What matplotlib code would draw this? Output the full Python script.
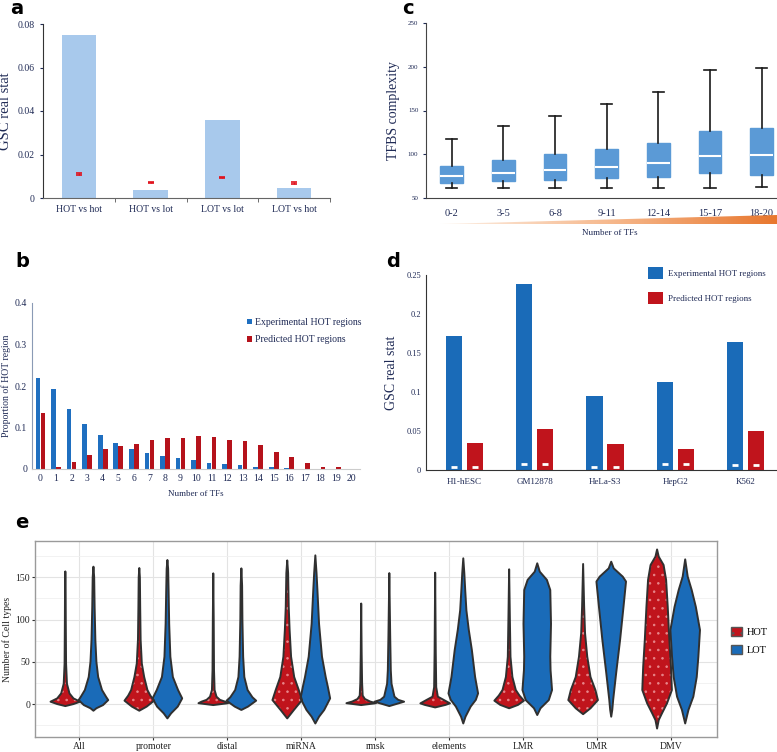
import numpy as np
import matplotlib
matplotlib.use("Agg")
import matplotlib.pyplot as plt
from matplotlib.patches import Polygon, Patch
from matplotlib.colors import LinearSegmentedColormap

plt.rcParams['font.family'] = ['Liberation Serif', 'DejaVu Serif']

NAVY = '#1f2a55'
BLUE = '#1a6bb8'
RED = '#c0141c'

# ---- panel a data
a_cats = ['HOT vs hot', 'HOT vs lot', 'LOT vs lot', 'LOT vs hot']
a_vals = [0.075, 0.0035, 0.036, 0.0045]
a_null = [0.011, 0.0072, 0.0095, 0.007]
a_err = [0.0004, 0.0003, 0.0003, 0.0004]

# ---- panel b data
b_x = list(range(21))
b_exp = [0.219, 0.193, 0.145, 0.108, 0.081, 0.062, 0.048, 0.039, 0.032, 0.026, 0.021,
         0.015, 0.011, 0.009, 0.006, 0.004, 0.003, 0.001, 0.0005, 0.0003, 0.0]
b_pred = [0.135, 0.006, 0.018, 0.034, 0.049, 0.055, 0.061, 0.071, 0.074, 0.075, 0.079,
          0.078, 0.071, 0.068, 0.059, 0.042, 0.030, 0.014, 0.006, 0.004, 0.0]

# ---- panel c data (box stats)
c_cats = ['0-2', '3-5', '6-8', '9-11', '12-14', '15-17', '18-20']
c_low = [62, 62, 62, 62, 62, 62, 63]
c_q1 = [67, 69, 70.6, 72.5, 73.7, 79, 76.7]
c_med = [75.6, 79, 82, 85, 89.7, 98.5, 99.6]
c_q3 = [87, 94, 100, 106.5, 112.6, 126.7, 130]
c_high = [117, 132, 144, 157, 170.6, 196, 198.5]

# ---- panel d data
d_cells = ['H1-hESC', 'GM12878', 'HeLa-S3', 'HepG2', 'K562']
d_exp = [0.172, 0.239, 0.095, 0.113, 0.164]
d_pred = [0.034, 0.053, 0.033, 0.027, 0.050]
d_exp_null = [0.004, 0.008, 0.004, 0.008, 0.007]
d_pred_null = [0.004, 0.008, 0.004, 0.008, 0.007]

# ---- panel e data (violin profiles: levels and relative widths)
e_cats = ['All', 'promoter', 'distal', 'miRNA', 'rmsk', 'elements', 'LMR', 'UMR', 'DMV']
hot_y = [
    [-2.4, 0, 2.8, 6.7, 12.6, 24, 48, 100, 140, 157],
    [-7.9, -3, 4, 10, 16.6, 32, 48, 76, 115, 150, 161],
    [-1.2, 1, 2.8, 5, 8.7, 16.6, 40, 100, 154.7],
    [-17, -7, 4.7, 16.6, 32, 56, 88, 115, 155, 170],
    [-1.2, 1, 3, 6, 10, 25, 60, 119],
    [-4, -1, 0.8, 4.7, 8.7, 20, 60, 155.5],
    [-5, -1, 4, 10, 16.6, 32, 56, 100, 159.5],
    [-12, -5, 4.7, 16.6, 32, 56, 84, 115, 165.8],
    [-29, -19, -11, 0.8, 16.6, 44, 76, 115, 147, 164.6, 174.5, 183],
]
hot_w = [
    [0, 0.55, 1.0, 0.55, 0.28, 0.11, 0.05, 0.03, 0.02, 0],
    [0, 0.5, 1.0, 0.75, 0.55, 0.33, 0.17, 0.09, 0.06, 0.04, 0],
    [0, 1.0, 0.8, 0.45, 0.22, 0.09, 0.05, 0.03, 0],
    [0, 0.45, 1.0, 0.78, 0.47, 0.26, 0.16, 0.1, 0.06, 0],
    [0, 1.0, 0.6, 0.25, 0.1, 0.06, 0.03, 0],
    [0, 0.7, 1.0, 0.6, 0.18, 0.07, 0.04, 0],
    [0, 0.6, 1.0, 0.7, 0.45, 0.22, 0.09, 0.05, 0],
    [0, 0.5, 1.0, 0.83, 0.5, 0.28, 0.13, 0.07, 0],
    [0, 0.11, 0.33, 0.67, 1.0, 0.94, 0.83, 0.72, 0.61, 0.44, 0.11, 0],
]
lot_y = [
    [-7.9, -5, -1.2, 4.7, 8.7, 16.6, 32, 50, 76, 115, 150, 162.6],
    [-17, -11, -3, 6.7, 16.6, 32, 56, 95, 135, 160, 170.5],
    [-7, -3, 4, 8, 16.6, 32, 56, 100, 140, 160.6],
    [-23, -15, -7, 6.7, 20, 32, 56, 95, 135, 155, 176],
    [-2.4, 2.8, 5, 8.7, 24, 40, 80, 155],
    [-23, -15, -3, 5, 12.6, 32, 64, 88, 111, 135, 155, 172.5],
    [-13, -5, 4.7, 16.6, 40, 56, 95, 135, 147, 156.7, 166.6],
    [-15, -7, 4.7, 36, 76, 115, 145, 150.8, 160.6, 168.5],
    [-23, -7, 8.7, 32, 56, 87.6, 115, 135, 150.8, 171.3],
]
lot_w = [
    [0, 0.2, 0.65, 1.0, 0.85, 0.58, 0.32, 0.2, 0.13, 0.08, 0.05, 0],
    [0, 0.25, 0.7, 1.0, 0.72, 0.37, 0.2, 0.12, 0.08, 0.05, 0],
    [0, 0.45, 1.0, 0.75, 0.42, 0.2, 0.12, 0.07, 0.05, 0],
    [0, 0.25, 0.6, 1.0, 0.85, 0.7, 0.45, 0.25, 0.14, 0.08, 0],
    [0, 1.0, 0.6, 0.35, 0.15, 0.1, 0.06, 0],
    [0, 0.15, 0.5, 0.85, 1.0, 0.8, 0.58, 0.37, 0.21, 0.13, 0.07, 0],
    [0, 0.22, 0.78, 1.0, 0.9, 0.88, 0.93, 0.88, 0.65, 0.17, 0],
    [0, 0.07, 0.13, 0.33, 0.6, 0.83, 1.0, 0.78, 0.17, 0],
    [0, 0.22, 0.55, 0.78, 0.89, 1.0, 0.72, 0.44, 0.17, 0],
]

W, H = 777, 752
fig = plt.figure(figsize=(W / 100, H / 100), dpi=100)


def box(l, t, r, b):
    return [l / W, 1 - b / H, (r - l) / W, (b - t) / H]


def letter(x, y, s):
    fig.text(x / W, 1 - y / H, s, fontsize=14, fontweight='bold',
             family='DejaVu Sans', va='baseline', ha='left')


### panel a
ax = fig.add_axes(box(43, 24, 330, 198))
xa = np.arange(len(a_cats))
ax.bar(xa, a_vals, 0.48, color='#a8c9ec')
ax.errorbar(xa, a_null, yerr=a_err, fmt='none', ecolor='#e0101a', capsize=2.2, elinewidth=1.0, capthick=1.2)
ax.set_xlim(-0.5, 3.5)
ax.set_ylim(0, 0.08)
ax.set_yticks([0, 0.02, 0.04, 0.06, 0.08])
ax.set_yticklabels(['0', '0.02', '0.04', '0.06', '0.08'])
ax.set_xticks(xa)
ax.set_xticklabels(a_cats)
ax.set_xticks([0.5, 1.5, 2.5, 3.5], minor=True)
ax.tick_params(axis='x', which='major', length=0, labelsize=7, colors=NAVY, pad=5)
ax.tick_params(axis='x', which='minor', length=3, color='#555')
ax.tick_params(axis='y', labelsize=7, colors=NAVY, length=2.5)
for s in ['top', 'right']:
    ax.spines[s].set_visible(False)
ax.spines['left'].set_color('#333')
ax.spines['bottom'].set_color('#666')
ax.set_ylabel('GSC real stat', fontsize=10.5, color=NAVY, labelpad=4)
letter(10, 14, 'a')

### panel b
ax = fig.add_axes(box(32, 303, 360, 469))
xb = np.array(b_x)
ax.bar(xb - 0.16, b_exp, 0.3, color='#1f6fc0', label='Experimental HOT regions')
ax.bar(xb + 0.16, b_pred, 0.3, color='#b5121b', label='Predicted HOT regions')
ax.set_xlim(-0.55, 20.55)
ax.set_ylim(0, 0.4)
ax.set_xticks(xb)
ax.set_yticks([0, 0.1, 0.2, 0.3, 0.4])
ax.set_yticklabels(['0', '0.1', '0.2', '0.3', '0.4'])
ax.tick_params(length=0, labelsize=7, colors=NAVY)
for s in ['top', 'right']:
    ax.spines[s].set_visible(False)
ax.spines['left'].set_color('#8a9ab5')
ax.spines['bottom'].set_color('#cccccc')
ax.set_xlabel('Number of TFs', fontsize=6.5, color=NAVY, labelpad=5)
ax.set_ylabel('Proportion of HOT region', fontsize=7, color=NAVY, labelpad=3)
ax.legend(loc='upper left', bbox_to_anchor=(238 / W, 1 - 309 / H), bbox_transform=fig.transFigure,
          frameon=False, fontsize=7, handlelength=0.5, handleheight=0.5, handletextpad=0.3,
          labelspacing=0.9, labelcolor=NAVY)
letter(15, 267, 'b')

### panel c
ax = fig.add_axes(box(426, 23, 777, 198))
stats = []
for i in range(len(c_cats)):
    stats.append(dict(whislo=c_low[i], q1=c_q1[i], med=c_med[i], q3=c_q3[i], whishi=c_high[i], label=c_cats[i]))
ax.bxp(stats, positions=np.arange(len(c_cats)), widths=0.44, patch_artist=True, showfliers=False,
       boxprops=dict(facecolor='#5b9ad6', edgecolor='#5b9ad6'),
       medianprops=dict(color='white', linewidth=1.5),
       whiskerprops=dict(color='#1a1a1a', linewidth=1.2),
       capprops=dict(color='#1a1a1a', linewidth=1.2))
ax.set_xlim(-0.5, 6.3)
ax.set_ylim(50, 250)
ax.set_yticks([50, 100, 150, 200, 250])
ax.tick_params(axis='y', labelsize=5, colors=NAVY, length=2)
ax.tick_params(axis='x', labelsize=7.5, colors=NAVY, length=0, pad=8)
for s in ['top', 'right']:
    ax.spines[s].set_visible(False)
ax.spines['left'].set_color('#444')
ax.spines['bottom'].set_color('#444')
ax.set_ylabel('TFBS complexity', fontsize=10, color=NAVY, labelpad=6)
letter(402, 14, 'c')

axg = fig.add_axes(box(440, 215, 777, 224))
grad = np.linspace(0, 1, 256).reshape(1, -1)
cmap = LinearSegmentedColormap.from_list('og', ['#fdf1e7', '#f6b98e', '#e8772e'])
im = axg.imshow(grad, aspect='auto', cmap=cmap, extent=[0, 1, 0, 1])
im.set_clip_path(Polygon([[0, 0], [1, 0], [1, 1]], transform=axg.transData))
axg.set_xlim(0, 1)
axg.set_ylim(0, 1)
axg.axis('off')
fig.text(610 / W, 1 - 233 / H, 'Number of TFs', fontsize=6.5, color=NAVY, ha='center', va='center')

### panel d
ax = fig.add_axes(box(426, 275, 777, 470))
xd = np.arange(len(d_cells))
ax.bar(xd - 0.15, d_exp, 0.23, color=BLUE, label='Experimental HOT regions')
ax.bar(xd + 0.15, d_pred, 0.23, color=RED, label='Predicted HOT regions')
ax.plot(xd - 0.15, d_exp_null, ls='none', marker='_', color='white', ms=5, mew=2)
ax.plot(xd + 0.15, d_pred_null, ls='none', marker='_', color='white', ms=5, mew=2)
ax.set_xlim(-0.55, 4.45)
ax.set_ylim(0, 0.25)
ax.set_xticks(xd)
ax.set_xticklabels(d_cells)
ax.set_yticks([0, 0.05, 0.1, 0.15, 0.2, 0.25])
ax.set_yticklabels(['0', '0.05', '0.1', '0.15', '0.2', '0.25'])
ax.tick_params(axis='y', labelsize=6, colors=NAVY, length=0)
ax.tick_params(axis='x', labelsize=6.5, colors=NAVY, length=0, pad=6)
for s in ['top', 'right']:
    ax.spines[s].set_visible(False)
ax.spines['left'].set_color('#333')
ax.spines['bottom'].set_color('#333')
ax.set_ylabel('GSC real stat', fontsize=10, color=NAVY, labelpad=6)
ax.legend(loc='upper left', bbox_to_anchor=(640 / W, 1 - 259 / H), bbox_transform=fig.transFigure,
          frameon=False, fontsize=6.5, handlelength=1.6, handleheight=1.6, handletextpad=0.6,
          labelspacing=1.5, labelcolor=NAVY)
letter(386, 267, 'd')

### panel e
ax = fig.add_axes(box(35, 541, 717, 737))
xe = np.arange(len(e_cats))


def violins(ys, ws, pos, color, hatch):
    vp = []
    for y, w in zip(ys, ws):
        vp.append(dict(coords=np.array(y, float), vals=np.array(w, float),
                       mean=0, median=0, min=y[0], max=y[-1]))
    fill = ax.violin(vp, positions=pos, widths=0.4, showextrema=False)
    for b in fill['bodies']:
        b.set_alpha(1)
        b.set_facecolor(color)
        if hatch:
            b.set_hatch('..')
            b.set_edgecolor('#e8868a')
            b.set_linewidth(0)
        else:
            b.set_edgecolor('none')
        b.set_zorder(2)
    out = ax.violin(vp, positions=pos, widths=0.4, showextrema=False)
    for b in out['bodies']:
        b.set_alpha(1)
        b.set_facecolor('none')
        b.set_edgecolor('#303030')
        b.set_linewidth(1.4)
        b.set_zorder(3)


plt.rcParams['hatch.linewidth'] = 0.6
violins(hot_y, hot_w, xe - 0.19, RED, True)
violins(lot_y, lot_w, xe + 0.19, BLUE, False)
ax.set_xlim(-0.6, 8.62)
ax.set_ylim(-39, 193)
ax.set_xticks(xe)
ax.set_xticklabels(e_cats)
ax.set_yticks([0, 50, 100, 150])
ax.set_yticks([-25, 25, 75, 125, 175], minor=True)
ax.grid(True, which='major', color='#e3e3e3', lw=0.8)
ax.grid(True, which='minor', axis='y', color='#f0f0f0', lw=0.6)
ax.set_axisbelow(True)
ax.tick_params(axis='both', which='major', labelsize=7, colors='#222', length=2, color='#333', pad=1.5)
ax.tick_params(axis='y', which='minor', length=0)
for s in ax.spines.values():
    s.set_color('#9a9a9a')
    s.set_linewidth(1.0)
ax.set_ylabel('Number of Cell types', fontsize=7, color='#222')
ax.yaxis.set_label_coords(-23 / 682, 0.5)
ax.legend(handles=[Patch(facecolor=RED, edgecolor='#555', hatch='..'), Patch(facecolor=BLUE, edgecolor='#555')],
          labels=['HOT', 'LOT'], loc='center left', bbox_to_anchor=(722 / W, 1 - 641 / H),
          bbox_transform=fig.transFigure, frameon=False, fontsize=7.5, handlelength=1.0,
          handleheight=1.0, handletextpad=0.5, labelspacing=0.8)
letter(15, 528, 'e')

fig.savefig('out.png', dpi=100)
